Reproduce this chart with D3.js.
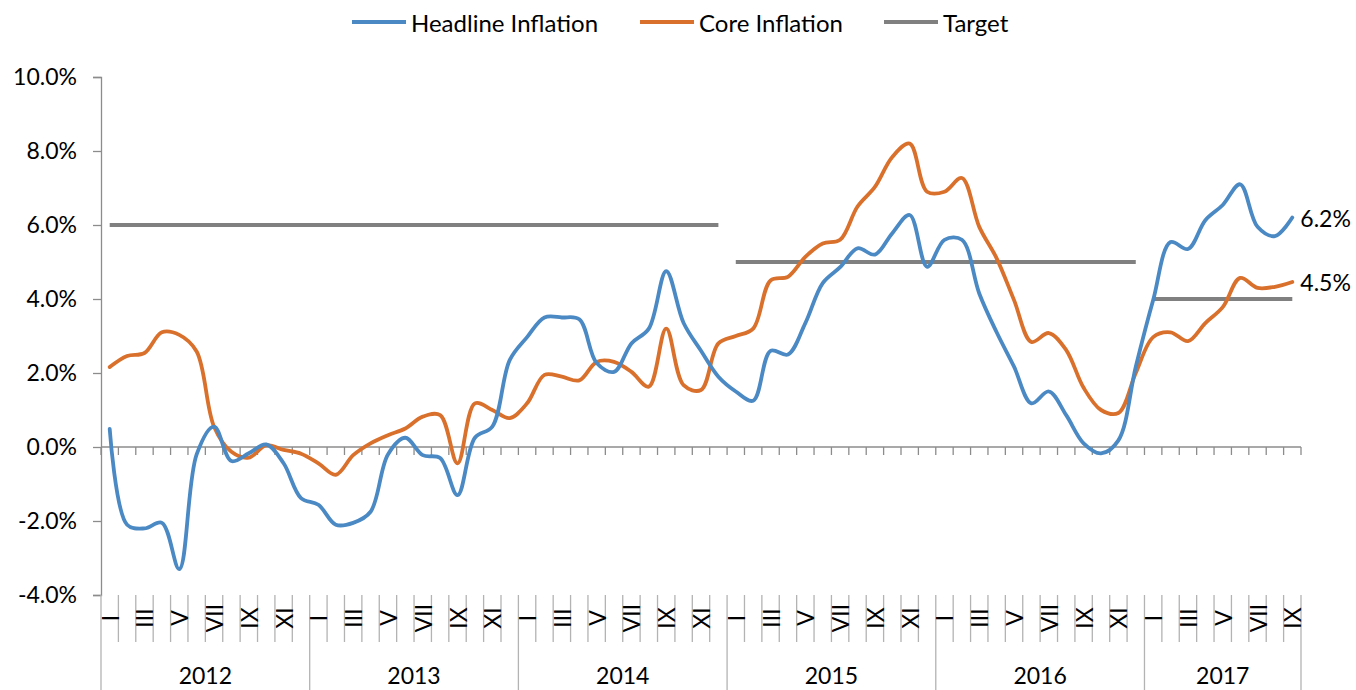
<!DOCTYPE html>
<html>
<head>
<meta charset="utf-8">
<script src="https://cdn.jsdelivr.net/npm/d3@7"></script>
<style>
  body { margin: 0; background: #fff; }
  text { font-family: Lato, "Open Sans", sans-serif; fill: #000; }
</style>
</head>
<body>
<div id="chart"></div>
<script>

// --> DATA (monthly, Jan 2012 - Sep 2017)

var years = ["2012", "2013", "2014", "2015", "2016", "2017"];
var monthNames = ["I", "II", "III", "IV", "V", "VI", "VII", "VIII", "IX", "X", "XI", "XII"];

var headline = [
    0.49, -2.1, -2.2, -2.05, -3.3, -0.2, 0.55, -0.38, -0.17, 0.07, -0.44, -1.38,
    -1.56, -2.1, -2.05, -1.75, -0.2, 0.25, -0.22, -0.3, -1.3, 0.25, 0.55, 2.35,
    2.97, 3.5, 3.5, 3.45, 2.27, 2.03, 2.8, 3.2, 4.75, 3.35, 2.6, 1.9,
    1.5, 1.25, 2.6, 2.5, 3.35, 4.43, 4.86, 5.37, 5.2, 5.78, 6.27, 4.87,
    5.6, 5.6, 4.15, 3.1, 2.17, 1.18, 1.5, 0.86, 0.1, -0.17, 0.18, 2.17,
    3.97, 5.54, 5.35, 6.13, 6.54, 7.1, 5.95, 5.7, 6.2
];

var core = [
    2.16, 2.46, 2.54, 3.1, 3.03, 2.58, 0.55, -0.13, -0.29, 0.05, -0.08, -0.18,
    -0.44, -0.75, -0.22, 0.1, 0.32, 0.5, 0.82, 0.86, -0.44, 1.18, 1.0, 0.78,
    1.18, 1.95, 1.9, 1.8, 2.3, 2.3, 2.03, 1.63, 3.2, 1.67, 1.54, 2.8,
    3.0, 3.2, 4.5, 4.6, 5.14, 5.5, 5.6, 6.5, 7.03, 7.84, 8.2, 6.9,
    6.9, 7.27, 5.95, 5.1, 3.97, 2.84, 3.08, 2.62, 1.6, 1.0, 0.92, 2.0,
    2.97, 3.1, 2.86, 3.35, 3.78, 4.57, 4.3, 4.33, 4.46
];

var targetStart = [0, 36, 60];
var targetEnd = [35, 59, 68];
var targetValue = [6, 5, 4];

var yTicks = [-4, -2, 0, 2, 4, 6, 8, 10];

// --> CREATE SVG DRAWING AREA

var width = 1356,
    height = 690;

var plotLeft = 101,
    plotRight = 1301,
    plotTop = 77,
    plotBottom = 595;

var blue = "#4a89c3",
    orange = "#d9702b",
    gray = "#808080",
    axisColor = "#8c8c8c";

var svg = d3.select("#chart").append("svg")
    .attr("width", width)
    .attr("height", height);

var months = [];
for (var i = 0; i < headline.length; i++) {
    months.push(i);
}

var x = d3.scaleBand()
    .domain(months)
    .range([plotLeft, plotRight]);

var y = d3.scaleLinear()
    .domain([-4, 10])
    .range([plotBottom, plotTop]);

var cx = function (i) { return x(i) + x.bandwidth() / 2; };

// y axis
var yAxis = d3.axisLeft(y)
    .tickValues(yTicks)
    .tickSize(8)
    .tickPadding(16)
    .tickFormat(function (d) { return d.toFixed(1) + "%"; });

var gy = svg.append("g")
    .attr("transform", "translate(" + plotLeft + ",0)")
    .call(yAxis);
gy.select(".domain").attr("stroke", axisColor).attr("stroke-width", 1.3);
gy.selectAll(".tick line").attr("stroke", axisColor).attr("stroke-width", 1.3);
gy.selectAll(".tick text")
    .style("font-size", "23px")
    .style("font-family", "Lato, sans-serif")
    .attr("fill", "#000");

// zero line with ticks at category boundaries
svg.append("line")
    .attr("x1", plotLeft).attr("x2", plotRight)
    .attr("y1", y(0)).attr("y2", y(0))
    .attr("stroke", axisColor).attr("stroke-width", 1.3);

svg.selectAll(".zeroTick")
    .data(months.concat([months.length]))
    .enter().append("line")
    .attr("class", "zeroTick")
    .attr("x1", function (d) { return plotLeft + d * x.step(); })
    .attr("x2", function (d) { return plotLeft + d * x.step(); })
    .attr("y1", y(0)).attr("y2", y(0) + 8)
    .attr("stroke", axisColor).attr("stroke-width", 1.3);

// category label area below the plot
svg.selectAll(".catLine")
    .data(months.concat([months.length]))
    .enter().append("line")
    .attr("class", "catLine")
    .attr("x1", function (d) { return plotLeft + d * x.step(); })
    .attr("x2", function (d) { return plotLeft + d * x.step(); })
    .attr("y1", plotBottom)
    .attr("y2", function (d) { return d % 12 === 0 || d === months.length ? height : 642; })
    .attr("stroke", "#b3b3b3").attr("stroke-width", 1.3);

svg.selectAll(".monthLabel")
    .data(months.filter(function (d) { return d % 2 === 0; }))
    .enter().append("text")
    .attr("class", "monthLabel")
    .attr("transform", function (d) { return "translate(" + cx(d) + ",618) rotate(-90)"; })
    .attr("text-anchor", "middle")
    .attr("dominant-baseline", "central")
    .style("font-size", "23px")
    .text(function (d) { return monthNames[d % 12]; });

svg.selectAll(".yearLabel")
    .data(years)
    .enter().append("text")
    .attr("class", "yearLabel")
    .attr("x", function (d, k) {
        var a = plotLeft + k * 12 * x.step();
        var b = Math.min(plotLeft + (k + 1) * 12 * x.step(), plotRight);
        return (a + b) / 2;
    })
    .attr("y", 684)
    .attr("text-anchor", "middle")
    .style("font-size", "23px")
    .text(function (d) { return d; });

// target segments
svg.selectAll(".target")
    .data(targetValue)
    .enter().append("line")
    .attr("class", "target")
    .attr("x1", function (d, k) { return cx(targetStart[k]); })
    .attr("x2", function (d, k) { return cx(targetEnd[k]); })
    .attr("y1", function (d) { return y(d); })
    .attr("y2", function (d) { return y(d); })
    .attr("stroke", gray)
    .attr("stroke-width", 3.8);

// lines
var line = d3.line()
    .x(function (d, i) { return cx(i); })
    .y(function (d) { return y(d); })
    .curve(d3.curveCatmullRom.alpha(0.5));

svg.append("path")
    .datum(core)
    .attr("d", line)
    .attr("fill", "none")
    .attr("stroke", orange)
    .attr("stroke-width", 3.8)
    .attr("stroke-linecap", "round");

svg.append("path")
    .datum(headline)
    .attr("d", line)
    .attr("fill", "none")
    .attr("stroke", blue)
    .attr("stroke-width", 3.8)
    .attr("stroke-linecap", "round");

// end labels
var last = headline.length - 1;
svg.append("text")
    .attr("x", cx(last) + 8)
    .attr("y", y(headline[last]))
    .attr("dominant-baseline", "central")
    .style("font-size", "23px")
    .text(headline[last].toFixed(1) + "%");

svg.append("text")
    .attr("x", cx(last) + 8)
    .attr("y", y(core[last]))
    .attr("dominant-baseline", "central")
    .style("font-size", "23px")
    .text(core[last].toFixed(1) + "%");

// legend
var legendItems = [
    { name: "Headline Inflation", color: blue, x: 352 },
    { name: "Core Inflation", color: orange, x: 640 },
    { name: "Target", color: gray, x: 884 }
];

var legend = svg.selectAll(".legend")
    .data(legendItems)
    .enter().append("g")
    .attr("class", "legend")
    .attr("transform", function (d) { return "translate(" + d.x + ",22)"; });

legend.append("line")
    .attr("x1", 0).attr("x2", 54)
    .attr("stroke", function (d) { return d.color; })
    .attr("stroke-width", 3.8);

legend.append("text")
    .attr("x", 59)
    .attr("dominant-baseline", "central")
    .style("font-size", "24px")
    .text(function (d) { return d.name; });

</script>
</body>
</html>
